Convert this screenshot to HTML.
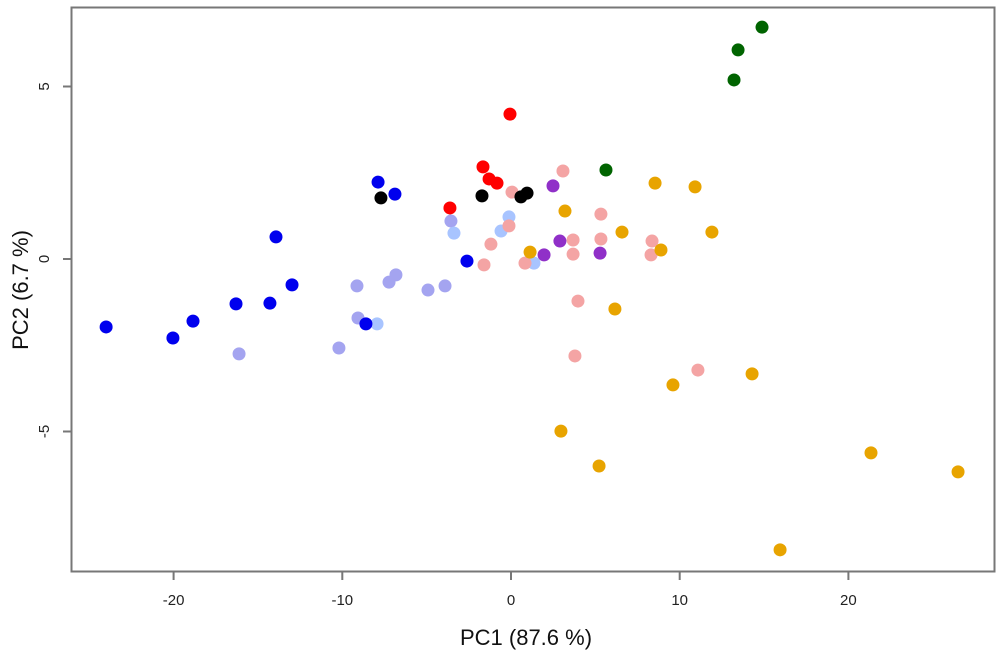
<!DOCTYPE html>
<html><head><meta charset="utf-8"><style>
body{margin:0;background:#fff}
svg{display:block;font-family:"Liberation Sans",Arial,sans-serif}
</style></head><body>
<svg id="chart" width="1000" height="661" viewBox="0 0 1000 661" xmlns="http://www.w3.org/2000/svg">
<rect x="71.5" y="7.5" width="923" height="564" fill="none" stroke="#777" stroke-width="2"/>
<g id="xaxis"></g>
<g id="yaxis"></g>
<g id="points"></g>
<text x="526" y="645" font-size="22" text-anchor="middle" fill="#111">PC1 (87.6 %)</text>
<text transform="translate(28,290) rotate(-90)" font-size="22" text-anchor="middle" fill="#111">PC2 (6.7 %)</text>
</svg>
<script>
const xTicks=[-20,-10,0,10,20];
const yTicks=[-5,0,5];
const blueX=[-24.0,-20.04,-18.85,-16.30,-14.29,-12.98,-13.93,-7.88,-6.88,-8.60,-2.61];
const blueY=[-1.97,-2.29,-1.80,-1.30,-1.28,-0.75,0.64,2.23,1.88,-1.88,-0.06];
const lavenderX=[-9.13,-7.23,-6.82,-4.92,-3.91,-9.07,-16.12,-10.20,-3.56];
const lavenderY=[-0.78,-0.67,-0.46,-0.90,-0.78,-1.71,-2.75,-2.58,1.10];
const lightBlueX=[-3.38,-7.94,-0.12,-0.59,1.36];
const lightBlueY=[0.75,-1.88,1.22,0.81,-0.12];
const redX=[-0.06,-1.66,-1.30,-0.83,-3.62];
const redY=[4.20,2.67,2.32,2.20,1.48];
const blackX=[-7.71,-1.72,0.59,0.95];
const blackY=[1.77,1.83,1.80,1.91];
const pinkX=[3.08,0.06,-0.12,-1.19,-1.60,0.83,3.68,3.68,5.33,5.33,8.36,8.30,3.97,3.79,11.08];
const pinkY=[2.55,1.94,0.96,0.43,-0.17,-0.12,0.55,0.14,1.30,0.58,0.52,0.12,-1.22,-2.81,-3.22];
const purpleX=[2.49,2.90,1.96,5.28];
const purpleY=[2.12,0.52,0.12,0.17];
const orangeX=[3.20,1.13,6.58,8.54,10.91,11.91,8.89,6.16,9.60,14.29,2.96,5.22,21.34,26.50,15.95];
const orangeY=[1.39,0.20,0.78,2.20,2.09,0.78,0.26,-1.45,-3.65,-3.33,-4.99,-6.00,-5.62,-6.17,-8.43];
const greenX=[5.63,13.22,13.46,14.88];
const greenY=[2.58,5.19,6.06,6.72];

const NS="http://www.w3.org/2000/svg";
function sx(v){return 511+v*16.87;}
function sy(v){return 259-v*34.5;}
const xa=document.getElementById('xaxis'), ya=document.getElementById('yaxis'), pg=document.getElementById('points');
xTicks.forEach(t=>{
  const l=document.createElementNS(NS,'line');
  
  
  l.setAttribute('x1',sx(t));l.setAttribute('x2',sx(t));l.setAttribute('y1',572);l.setAttribute('y2',580);
  l.setAttribute('stroke','#777');l.setAttribute('stroke-width','2');xa.appendChild(l);
  const tx=document.createElementNS(NS,'text');
  
  
  tx.setAttribute('x',sx(t));tx.setAttribute('y',605);tx.setAttribute('font-size','15');
  tx.setAttribute('text-anchor','middle');tx.setAttribute('fill','#222');tx.textContent=t;xa.appendChild(tx);
});
yTicks.forEach(t=>{
  const l=document.createElementNS(NS,'line');
  
  
  l.setAttribute('x1',63);l.setAttribute('x2',71);l.setAttribute('y1',sy(t));l.setAttribute('y2',sy(t));
  l.setAttribute('stroke','#777');l.setAttribute('stroke-width','2');ya.appendChild(l);
  const tx=document.createElementNS(NS,'text');
  
  
  tx.setAttribute('transform','translate(49,'+sy(t)+') rotate(-90)');tx.setAttribute('font-size','15');
  tx.setAttribute('text-anchor','middle');tx.setAttribute('fill','#222');tx.textContent=t;ya.appendChild(tx);
});
const groups=[[lavenderX,lavenderY,'#a4a4f0','lavender-group'],[lightBlueX,lightBlueY,'#a8c4ff','light-blue-group'],[blueX,blueY,'#0000ee','blue-group'],
[pinkX,pinkY,'#f4a4a4','pink-group'],[purpleX,purpleY,'#9030c8','purple-group'],[orangeX,orangeY,'#e8a400','orange-group'],
[redX,redY,'#ff0000','red-group'],[blackX,blackY,'#000000','black-group'],[greenX,greenY,'#006400','green-group']];
groups.forEach(g=>{
  g[0].forEach((x,i)=>{
    const c=document.createElementNS(NS,'circle');
    
    
    c.setAttribute('cx',sx(x));c.setAttribute('cy',sy(g[1][i]));c.setAttribute('r',6.5);c.setAttribute('fill',g[2]);
    pg.appendChild(c);
  });
});
</script>
</body></html>
